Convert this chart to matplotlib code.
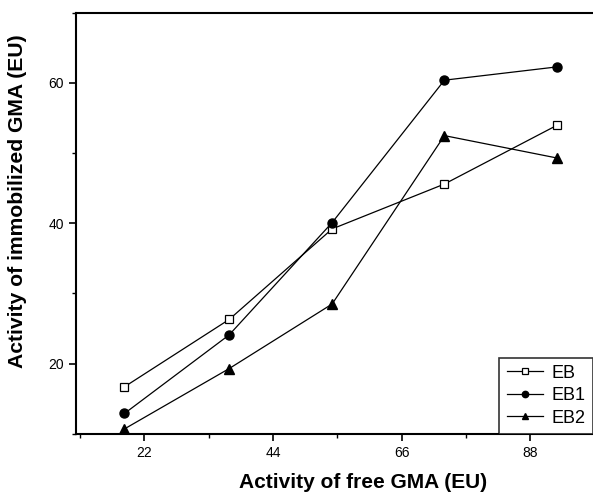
import matplotlib
matplotlib.use("Agg")
import matplotlib.pyplot as plt
from matplotlib.ticker import MultipleLocator

plt.rcParams['font.family'] = ['Liberation Sans', 'DejaVu Sans']

# activity of free GMA (EU)
free_gma = [18.6, 36.5, 54.1, 73.3, 92.6]

# activity of immobilized GMA (EU)
eb = [16.7, 26.3, 39.2, 45.6, 54.0]
eb1 = [12.9, 24.1, 40.1, 60.4, 62.3]
eb2 = [10.7, 19.3, 28.5, 52.5, 49.3]

fig = plt.figure(figsize=(5.93, 4.93), dpi=100)
ax = fig.add_axes([0.128, 0.12, 0.872, 0.854])

ax.plot(free_gma, eb, '-s', color='black', lw=0.9, ms=5.5,
        mfc='white', mec='black', mew=0.9, label='EB')
ax.plot(free_gma, eb1, '-o', color='black', lw=0.9, ms=6.5,
        mfc='black', label='EB1')
ax.plot(free_gma, eb2, '-^', color='black', lw=0.9, ms=7,
        mfc='black', label='EB2')

ax.set_xlim(10.3, 98.7)
ax.set_ylim(10, 70)
ax.xaxis.set_major_locator(MultipleLocator(22))
ax.xaxis.set_minor_locator(MultipleLocator(11))
ax.yaxis.set_major_locator(MultipleLocator(20))
ax.yaxis.set_minor_locator(MultipleLocator(10))
ax.tick_params(which='major', direction='out', length=5, width=1.2, labelsize=10)
ax.tick_params(which='minor', direction='out', length=3, width=1)
ax.tick_params(right=False, top=False, which='both')
for s in ax.spines.values():
    s.set_linewidth(1.5)
ax.spines['right'].set_visible(False)

ax.set_xlabel('Activity of free GMA (EU)', fontsize=15, fontweight='bold')
ax.xaxis.set_label_coords(0.555, -0.093)
ax.set_ylabel('Activity of immobilized GMA (EU)', fontsize=15.2, fontweight='bold')
ax.yaxis.set_label_coords(-0.095, 0.553)

leg = ax.legend(loc='lower right', fontsize=13, frameon=True, fancybox=False,
                edgecolor='black', borderaxespad=0, handlelength=2.0,
                handletextpad=0.5, labelspacing=0.3, borderpad=0.4,
                markerscale=0.7)
leg.get_frame().set_linewidth(1.2)

fig.savefig('out.png', dpi=100)
